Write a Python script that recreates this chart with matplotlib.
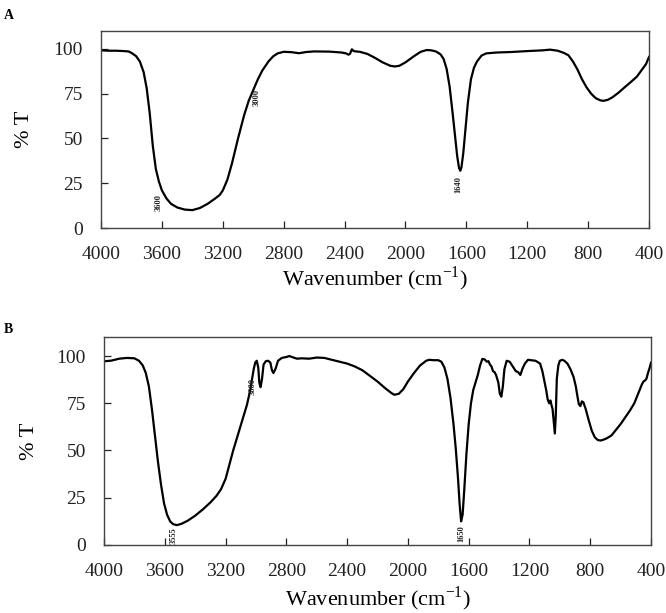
import matplotlib
matplotlib.use("Agg")
import matplotlib.pyplot as plt

plt.rcParams['font.family'] = ['Liberation Serif', 'DejaVu Serif']

# Panel A spectrum (wavenumber, %T)
wn_a = [4000, 3950, 3900, 3850, 3820, 3800, 3770, 3745, 3720, 3700,
        3680, 3660, 3640, 3620, 3600, 3570, 3540, 3500, 3450, 3400,
        3350, 3300, 3250, 3220, 3200, 3170, 3140, 3100, 3060, 3030,
        3000, 2970, 2940, 2900, 2870, 2840, 2800, 2750, 2700, 2650,
        2600, 2500, 2420, 2390, 2375, 2365, 2352, 2340, 2325, 2300,
        2250, 2200, 2150, 2100, 2070, 2040, 2000, 1950, 1900, 1860,
        1830, 1800, 1770, 1750, 1730, 1710, 1690, 1675, 1660, 1648,
        1640, 1632, 1620, 1605, 1590, 1570, 1550, 1530, 1500, 1470,
        1430, 1400, 1300, 1200, 1100, 1050, 1000, 960, 930, 900,
        870, 840, 810, 780, 750, 720, 700, 670, 640, 600,
        560, 520, 480, 450, 420, 400]
t_a = [99.2, 99.0, 99.0, 98.8, 98.6, 97.8, 96.0, 93.0, 87.0, 78.0,
       64.0, 46.0, 33.0, 26.0, 21.0, 16.5, 13.5, 11.5, 10.3, 10.0,
       11.2, 13.5, 16.5, 18.5, 21.0, 27.0, 36.0, 50.0, 63.0, 71.0,
       77.0, 83.0, 88.0, 93.0, 95.8, 97.5, 98.4, 98.2, 97.6, 98.3,
       98.6, 98.5, 98.0, 97.5, 96.8, 97.2, 99.8, 98.8, 98.6, 98.4,
       97.2, 95.0, 92.5, 90.6, 90.2, 90.6, 92.5, 95.6, 98.4, 99.4,
       99.2, 98.6, 97.0, 94.5, 89.0, 79.0, 64.0, 52.0, 40.0, 33.5,
       32.0, 34.0, 42.0, 56.0, 70.0, 83.0, 89.5, 93.0, 96.3, 97.5,
       97.8, 98.0, 98.3, 98.8, 99.2, 99.6, 99.0, 97.8, 96.5, 93.0,
       88.5, 83.0, 78.5, 75.0, 72.5, 71.3, 71.0, 71.6, 73.0, 75.6,
       78.6, 81.5, 84.5, 88.0, 91.5, 95.5]

# Panel B spectrum (wavenumber, %T)
wn_b = [4000, 3950, 3900, 3850, 3800, 3770, 3745, 3725, 3705, 3685,
        3665, 3645, 3625, 3605, 3585, 3565, 3545, 3520, 3490, 3450,
        3400, 3350, 3300, 3260, 3230, 3200, 3180, 3150, 3120, 3090,
        3060, 3040, 3025, 3015, 3005, 2995, 2985, 2978, 2970, 2960,
        2950, 2935, 2920, 2905, 2895, 2885, 2870, 2855, 2830, 2800,
        2780, 2760, 2730, 2700, 2650, 2600, 2550, 2500, 2450, 2400,
        2350, 2300, 2250, 2200, 2150, 2110, 2090, 2060, 2030, 2000,
        1960, 1920, 1880, 1860, 1830, 1800, 1780, 1760, 1740, 1720,
        1700, 1685, 1670, 1660, 1650, 1640, 1630, 1615, 1600, 1585,
        1570, 1555, 1540, 1525, 1510, 1495, 1480, 1470, 1460, 1450,
        1440, 1430, 1420, 1405, 1395, 1385, 1375, 1365, 1350, 1330,
        1310, 1290, 1275, 1260, 1245, 1230, 1210, 1190, 1160, 1130,
        1115, 1100, 1090, 1080, 1070, 1062, 1055, 1048, 1040, 1033,
        1027, 1020, 1010, 1000, 985, 970, 950, 930, 910, 895,
        885, 875, 865, 855, 845, 830, 810, 790, 770, 750,
        730, 710, 690, 660, 630, 600, 570, 540, 510, 490,
        470, 460, 450, 440, 430, 420, 410, 400]
t_b = [97.2, 97.6, 98.6, 99.0, 98.8, 97.5, 95.0, 91.0, 84.0, 72.0,
       58.0, 44.0, 32.0, 22.0, 16.0, 12.5, 11.0, 10.5, 11.2, 12.8,
       15.5, 18.8, 22.5, 26.0, 29.5, 35.0, 41.0, 50.0, 58.0, 66.0,
       74.0, 81.0, 88.0, 93.0, 96.5, 97.5, 94.0, 86.0, 83.5, 88.0,
       95.5, 97.3, 97.5, 96.5, 92.5, 91.0, 93.5, 97.5, 99.0, 99.5,
       100.0, 99.4, 98.6, 98.8, 98.6, 99.2, 99.0, 98.0, 97.0, 96.0,
       94.5, 92.5, 89.5, 86.5, 83.0, 80.5, 79.5, 80.0, 82.5, 86.5,
       91.0, 95.0, 97.5, 98.0, 97.8, 97.8, 97.0, 94.0, 88.0, 78.0,
       64.0, 51.0, 35.0, 22.0, 12.5, 16.0, 28.0, 48.0, 64.0, 75.0,
       82.0, 86.0, 90.0, 95.0, 98.5, 98.2, 97.0, 97.3, 95.5, 94.5,
       92.0, 91.5, 90.0, 86.0, 80.0, 78.5, 84.0, 93.0, 97.5, 97.0,
       94.5, 92.0, 91.5, 90.0, 93.5, 96.0, 98.0, 97.8, 97.5, 96.0,
       92.0, 86.0, 82.0, 77.0, 75.0, 76.5, 74.0, 72.0, 65.0, 59.0,
       68.0, 88.0, 95.0, 97.5, 98.0, 97.5, 96.0, 93.0, 89.0, 84.0,
       79.0, 74.5, 73.5, 76.0, 75.5, 72.0, 66.0, 60.5, 57.0, 55.5,
       55.3, 55.8, 56.5, 58.0, 61.0, 64.0, 67.5, 71.0, 75.0, 79.0,
       83.0, 85.0, 86.5, 87.0, 88.0, 91.0, 93.5, 96.5]

xticks = [4000, 3600, 3200, 2800, 2400, 2000, 1600, 1200, 800, 400]
yticks = [0, 25, 50, 75, 100]

# peak annotations: (label, wavenumber, %T center)
ann_a = [("3600", 3623, 14), ("3000", 2975, 73), ("1640", 1652, 24)]
ann_b = [("3555", 3545, 5), ("3000", 3023, 84), ("1650", 1647, 6)]

fig = plt.figure(figsize=(6.66, 6.13), dpi=100)
ax_a = fig.add_axes([0.1517, 0.628, 0.8228, 0.3214])
ax_b = fig.add_axes([0.1562, 0.111, 0.8213, 0.339])

for ax, wn, t, ann, ylab_pad, xlab_pad in [
        (ax_a, wn_a, t_a, ann_a, 14, 1),
        (ax_b, wn_b, t_b, ann_b, 13, 3)]:
    ax.plot(wn, t, color='black', lw=1.6)
    ax.set_xlim(4000, 400)
    ax.set_ylim(0, 110)
    ax.set_xticks(xticks)
    ax.set_yticks(yticks)
    ax.tick_params(direction='in', length=5, width=0.9, colors='#222222',
                   labelsize=14)
    ax.tick_params(axis='y', pad=13)
    ax.tick_params(axis='x', pad=13)
    for s in ax.spines.values():
        s.set_color('#444444')
        s.set_linewidth(1.0)
    ax.set_xlabel("Wavenumber (cm$^{\\mathregular{-1}}$)", fontsize=16,
                  labelpad=xlab_pad)
    ax.set_ylabel("% T", fontsize=16, labelpad=ylab_pad)
    for txt, x, y in ann:
        ax.text(x, y, txt, rotation=90, fontsize=6, fontweight='bold',
                ha='center', va='center', color='#222222')

fig.text(0.006, 0.985, "A", fontsize=10, fontweight='bold', va='top', ha='left')
fig.text(0.006, 0.473, "B", fontsize=10, fontweight='bold', va='top', ha='left')

fig.savefig("out.png", dpi=100)
